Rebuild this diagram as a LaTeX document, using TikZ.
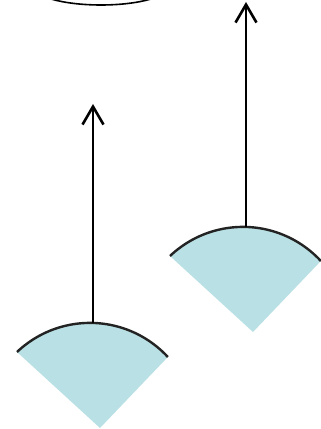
\documentclass[tikz,border=0pt]{standalone}
\usepackage[dvipsnames]{xcolor}
\definecolor{fanblue}{RGB}{185, 224, 228}
\definecolor{darkarc}{RGB}{35, 35, 35}
\usetikzlibrary{arrows.meta,shapes.geometric,positioning}

\begin{document}
\begin{tikzpicture}[x=1pt, y=1pt]
\tikzset{
    fan/.style={fill=fanblue},
    arcline/.style={darkarc, line width=2.4pt},
    arrowline/.style={black, line width=2.6pt, -{Straight Barb[length=18pt, width=21pt, line width=2.6pt]}},
    topoval/.style={draw, ellipse, line width=1.6pt, minimum width=140pt, minimum height=40pt, inner sep=0pt}
}
\clip (0,0) rectangle (321,429);

\node[topoval] (oval) at (101,444) {};

\foreach \i/\sx/\sy in {1/0/0, 2/153/96} {
  \begin{scope}[shift={(\sx,\sy)}]
    \fill[fan] (100,1) -- (17,77) arc[start angle=133.5, end angle=42.7, radius=106] -- cycle;
    \draw[arcline] (17,77) arc[start angle=133.5, end angle=42.7, radius=106];
    \coordinate (top\i) at (93,105.9);
  \end{scope}
}
\coordinate (tip1) at (93,325);
\coordinate (tip2) at (246,427);

\draw[arrowline] (top1) -- (tip1);
\draw[arrowline] (top2) -- (tip2);

\end{tikzpicture}
\end{document}
